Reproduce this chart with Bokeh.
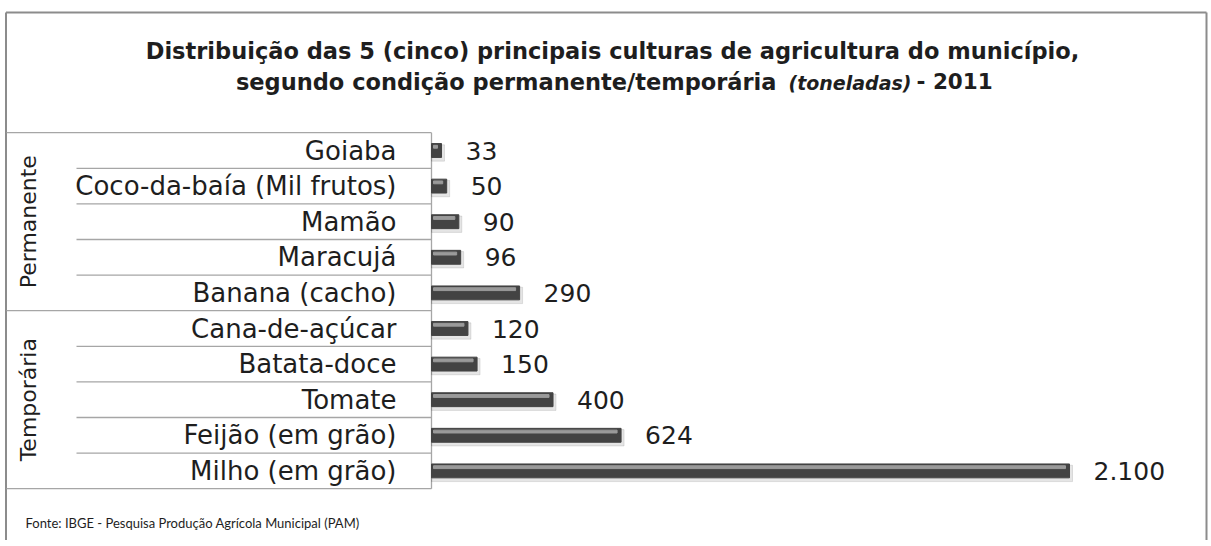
from bokeh.plotting import figure
from bokeh.models import Range1d
from bokeh.core.properties import value
from bokeh.embed import file_html
from bokeh.resources import INLINE

# ---- data ----
groups = ["Permanente", "Temporária"]
categories = ["Goiaba", "Coco-da-baía (Mil frutos)", "Mamão", "Maracujá", "Banana (cacho)",
              "Cana-de-açúcar", "Batata-doce", "Tomate", "Feijão (em grão)", "Milho (em grão)"]
values = [33, 50, 90, 96, 290, 120, 150, 400, 624, 2100]
value_labels = ["33", "50", "90", "96", "290", "120", "150", "400", "624", "2.100"]
group_sizes = [5, 5]

title1 = "Distribuição das 5 (cinco) principais culturas de agricultura do município,"
title2a = "segundo condição permanente/temporária"
title2b = "(toneladas)"
title2c = "- 2011"
source = "Fonte: IBGE - Pesquisa Produção Agrícola Municipal (PAM)"

W, H = 1210, 540
ZERO_PX = 431.0           # px of value 0
K = 638.0 / 2100.0        # px per unit
ROW = 35.6                # px per row
ROW0_PX = 150.0           # px (from top) of first row center

x_start = -ZERO_PX / K
x_end = (W - ZERO_PX) / K
y_top = -ROW0_PX / ROW
y_bottom = (H - ROW0_PX) / ROW

def fx(px):
    return x_start + px / K

def fy(py):
    return y_top + py / ROW

FONT = "DejaVu Sans"
TXT = "#1e1e1e"
rows = list(range(len(categories)))

p = figure(width=W, height=H, output_backend="svg", toolbar_location=None,
           x_range=Range1d(x_start, x_end), y_range=Range1d(y_bottom, y_top),
           min_border=0, outline_line_color=None, background_fill_color="white",
           border_fill_color="white")
p.axis.visible = False
p.grid.visible = False

# outer border (left, top, right)
bc = "#8c8c8c"
p.segment(x0=[fx(5.5), fx(5.5), fx(1206)], y0=[fy(H), fy(12), fy(12)],
          x1=[fx(5.5), fx(1206), fx(1206)], y1=[fy(12), fy(12), fy(H)],
          line_color=bc, line_width=2)

# table lines
tc = "#a6a6a6"
n = len(categories)
full_rows = [-0.5]
acc = -0.5
for g in group_sizes:
    acc += g
    full_rows.append(acc)
inner_rows = [r + 0.5 for r in rows[:-1] if (r + 0.5) not in full_rows]
p.segment(x0=[fx(6)] * len(full_rows), x1=[0] * len(full_rows), y0=full_rows, y1=full_rows,
          line_color=tc, line_width=1.3)
p.segment(x0=[fx(76)] * len(inner_rows), x1=[0] * len(inner_rows), y0=inner_rows, y1=inner_rows,
          line_color=tc, line_width=1.3)
p.segment(x0=[0], x1=[0], y0=[-0.5], y1=[n - 0.5], line_color=tc, line_width=1.3)

# bars: shadow, body, highlight
p.hbar(y=[r + 0.07 for r in rows], left=0, right=[v + 3 / K for v in values], height=0.46,
       color="#000000", alpha=0.10)
p.hbar(y=rows, left=0, right=values, height=0.39, color="#434343")
p.hbar(y=[r - 0.105 for r in rows], left=2 / K, right=[v - 4 / K for v in values], height=0.08,
       color="#9a9a9a")

# category labels
p.text(x=[0] * n, y=rows, text=categories, x_offset=-35, text_align="right",
       text_baseline="middle", text_font=value(FONT), text_font_size="26px", text_color=TXT)

# value labels
p.text(x=values, y=rows, text=value_labels, x_offset=24, text_align="left",
       text_baseline="middle", text_font=value(FONT), text_font_size="25px", text_color=TXT)

# group labels
gy = []
start = 0
for g in group_sizes:
    gy.append(start + (g - 1) / 2)
    start += g
p.text(x=[fx(28)] * len(groups), y=gy, text=groups, angle=1.5708, text_align="center",
       text_baseline="middle", text_font=value(FONT), text_font_size="22px", text_color=TXT)

# title
p.text(x=[fx(612)], y=[fy(50)], text=[title1], text_align="center", text_baseline="middle",
       text_font=value(FONT), text_font_size="22.5px", text_font_style="bold", text_color=TXT)
p.text(x=[fx(776)], y=[fy(81)], text=[title2a], text_align="right", text_baseline="middle",
       text_font=value(FONT), text_font_size="22.5px", text_font_style="bold", text_color=TXT)
p.text(x=[fx(788)], y=[fy(82)], text=[title2b], text_align="left", text_baseline="middle",
       text_font=value(FONT), text_font_size="19px", text_font_style="bold italic", text_color=TXT)
p.text(x=[fx(916)], y=[fy(81)], text=[title2c], text_align="left", text_baseline="middle",
       text_font=value(FONT), text_font_size="21.5px", text_font_style="bold", text_color=TXT)

# source
p.text(x=[fx(25)], y=[fy(522)], text=[source], text_align="left", text_baseline="middle",
       text_font=value("Lato"), text_font_size="13px", text_color=TXT)

open("out.html", "w").write(file_html(p, INLINE))
